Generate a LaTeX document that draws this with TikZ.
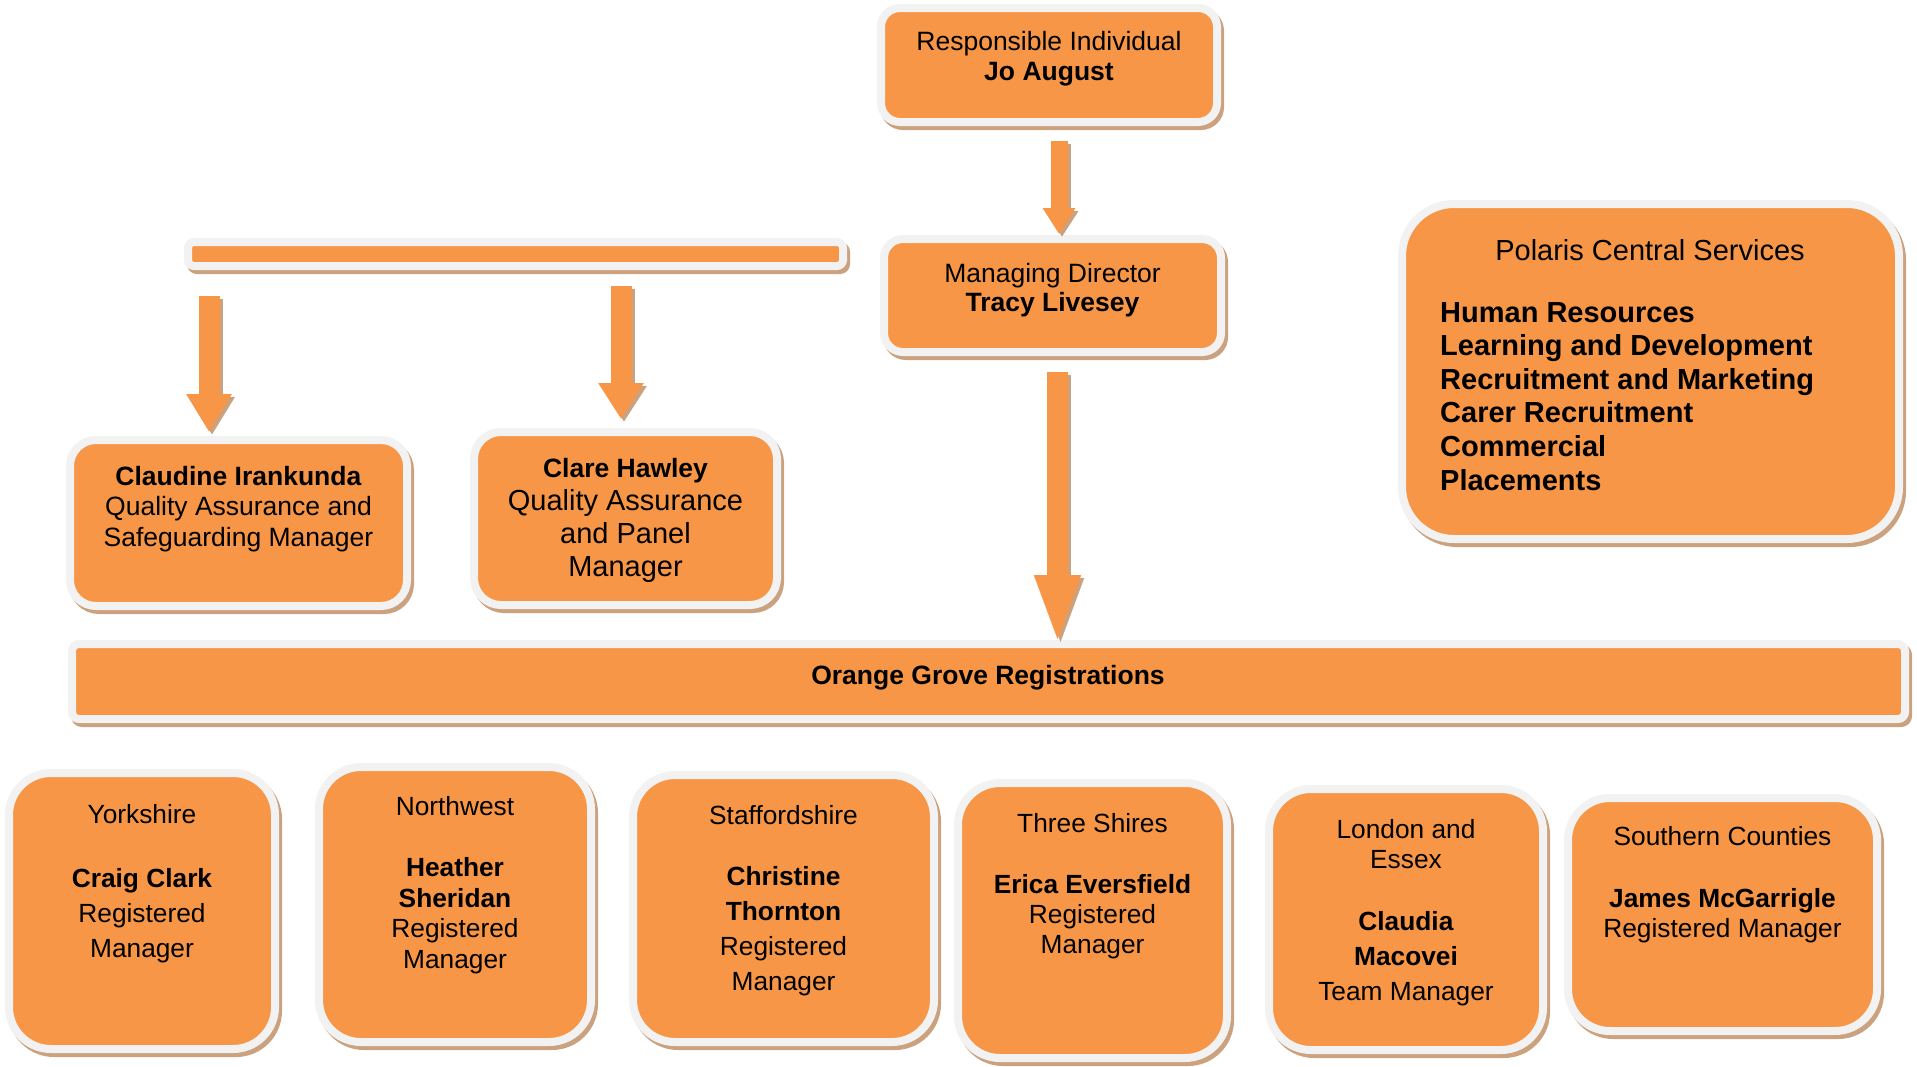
\documentclass[tikz,border=0pt]{standalone}
\usepackage{fontspec}
\setmainfont{Liberation Sans}
\usetikzlibrary{arrows.meta}
\definecolor{org}{HTML}{F79646}
\definecolor{bord}{HTML}{F2F2F2}
\definecolor{shad}{RGB}{203,161,126}
\newcommand\lines[2]{\vtop{\hsize=#1pt\parindent=0pt\centering #2\par}}
\newcommand\obox[6]{%
  \node[box, rounded corners=#6pt, minimum width={#4-#2+8}, minimum height={#5-#3+8}]
    (#1) at ({(#2+#4)/2},{(#3+#5)/2}) {};}
\begin{document}
\begin{tikzpicture}[x=1pt,y=-1pt,
  box/.style={fill=org, draw=bord, line width=8pt, inner sep=0pt, outer sep=0pt,
    preaction={fill=shad, draw=shad, line width=8pt, transform canvas={xshift=3pt,yshift=-4pt}}},
  txt/.style={inner sep=0pt, anchor=base, text=black},
  fatarr/.style n args={3}{line width=#1pt, -{Triangle[width=#2pt,length=#3pt]}},
  arrshad/.style={draw=shad, transform canvas={xshift=3pt,yshift=-3pt}}
]
\useasboundingbox (0,0) rectangle (1917,1066);
\fill[white] (0,0) rectangle (1917,1066);

% boxes
\obox{ri}{885}{12}{1213}{118}{19}
\obox{md}{888}{243}{1217}{348}{19}
\obox{bar}{192}{246}{839}{262}{6}
\obox{cl}{74}{444}{403}{602}{26}
\obox{ch}{478}{436}{773}{601}{27}
\obox{pol}{1406}{208}{1895}{535}{52}
\obox{og}{76}{648}{1901}{715}{7}
\obox{yk}{13}{777}{271}{1045}{42}
\obox{nw}{323}{771}{587}{1038}{42}
\obox{st}{637}{779}{930}{1038}{42}
\obox{ts}{962}{787}{1223}{1054}{42}
\obox{le}{1273}{793}{1539}{1046}{42}
\obox{sc}{1572}{802}{1873}{1027}{42}

% arrows
\coordinate (a1s) at (1059,141); \coordinate (a1e) at (1059,234);
\coordinate (a2s) at (1057.5,372); \coordinate (a2e) at (1057.5,645);
\coordinate (a3s) at (209,296); \coordinate (a3e) at (209,432);
\coordinate (a4s) at (621,286); \coordinate (a4e) at (621,419);
\draw[fatarr={17}{31}{26}, arrshad] (a1s) -- (a1e);
\draw[fatarr={21}{41}{70}, arrshad] (a2s) -- (a2e);
\draw[fatarr={21}{43}{38}, arrshad] (a3s) -- (a3e);
\draw[fatarr={21}{43}{36}, arrshad] (a4s) -- (a4e);
\draw[fatarr={17}{31}{26}, draw=org] (a1s) -- (a1e);
\draw[fatarr={21}{41}{70}, draw=org] (a2s) -- (a2e);
\draw[fatarr={21}{43}{38}, draw=org] (a3s) -- (a3e);
\draw[fatarr={21}{43}{36}, draw=org] (a4s) -- (a4e);

% texts
\node[txt, font=\fontsize{26.5}{30}\selectfont] (rit) at (1049,50)
  {\lines{320}{Responsible Individual\\\textbf{Jo August}}};
\node[txt, font=\fontsize{26.5}{29}\selectfont] (mdt) at (1052.5,282)
  {\lines{320}{Managing Director\\\textbf{Tracy Livesey}}};
\node[txt, font=\fontsize{26.5}{30.5}\selectfont] (clt) at (238.5,485)
  {\lines{325}{\textbf{Claudine Irankunda}\\Quality Assurance and\\Safeguarding Manager}};
\node[txt, font=\fontsize{29}{33.3}\selectfont] (cht) at (625.5,477)
  {\lines{290}{{\fontsize{26.5}{33.3}\selectfont\bfseries Clare Hawley}\\Quality Assurance\\and Panel\\Manager}};
\node[txt, font=\fontsize{29}{33}\selectfont] (polh) at (1650,260) {Polaris Central Services};
\node[txt, anchor=base west, font=\fontsize{29}{33.6}\selectfont\bfseries] (poll) at (1440,322)
  {\vtop{\hsize=440pt\parindent=0pt\raggedright Human Resources\\Learning and Development\\Recruitment and Marketing\\Carer Recruitment\\Commercial\\Placements\par}};
\node[txt, font=\fontsize{26.5}{30}\selectfont\bfseries] (ogt) at (988,684) {Orange Grove Registrations};

\node[txt, font=\fontsize{26.3}{35}\selectfont] (ykt) at (142,823)
  {\lines{250}{Yorkshire\\[29pt]\textbf{Craig Clark}\\Registered\\Manager}};
\node[txt, font=\fontsize{26.3}{30.5}\selectfont] (nwt) at (455,815)
  {\lines{255}{Northwest\\[31pt]\textbf{Heather}\\\textbf{Sheridan}\\Registered\\Manager}};
\node[txt, font=\fontsize{26.3}{35}\selectfont] (stt) at (783.5,824)
  {\lines{285}{Staffordshire\\[26pt]\textbf{Christine}\\\textbf{Thornton}\\Registered\\Manager}};
\node[txt, font=\fontsize{26.3}{30}\selectfont] (tst) at (1092.5,832)
  {\lines{255}{Three Shires\\[31pt]\textbf{Erica Eversfield}\\Registered\\Manager}};
\node[txt, font=\fontsize{26.3}{35}\selectfont] (let) at (1406,838)
  {\lines{260}{London and\\[-5pt]Essex\\[27pt]\textbf{Claudia}\\\textbf{Macovei}\\Team Manager}};
\node[txt, font=\fontsize{26.3}{30}\selectfont] (sct) at (1722.5,845)
  {\lines{295}{Southern Counties\\[32pt]\textbf{James McGarrigle}\\Registered Manager}};
\end{tikzpicture}
\end{document}
